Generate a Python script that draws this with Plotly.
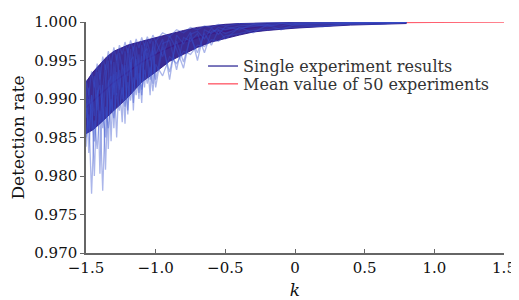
import plotly.graph_objects as go

K = [-1.50, -1.48, -1.46, -1.44, -1.42, -1.40, -1.38, -1.36, -1.34, -1.32,
     -1.30, -1.28, -1.26, -1.24, -1.22, -1.20, -1.18, -1.16, -1.14, -1.12,
     -1.10, -1.08, -1.06, -1.04, -1.02, -1.00, -0.95, -0.90, -0.85, -0.80,
     -0.75, -0.70, -0.65, -0.60, -0.55, -0.50, -0.40, -0.30, -0.20, -0.10,
     0.00, 0.20, 0.40, 0.60, 0.80]

RUN_A = [0.9925, 0.9905, 0.9936, 0.9915, 0.9946, 0.9925, 0.9955, 0.9938, 0.9962, 0.9945,
         0.9967, 0.9950, 0.9970, 0.9958, 0.9974, 0.9960, 0.9976, 0.9963, 0.9978, 0.9966,
         0.9980, 0.9969, 0.9981, 0.9972, 0.9983, 0.9975, 0.9986, 0.9981, 0.9990, 0.9986,
         0.9993, 0.9990, 0.9995, 0.9993, 0.9997, 0.9995, 0.9998, 0.9998, 0.9999, 0.99993,
         0.99996, 0.99998, 0.99999, 1.0000, 1.0000]
RUN_B = [0.9850, 0.9880, 0.9777, 0.9872, 0.9835, 0.9885, 0.9781, 0.9890, 0.9862, 0.9900,
         0.9875, 0.9908, 0.9885, 0.9915, 0.9890, 0.9922, 0.9898, 0.9928, 0.9905, 0.9934,
         0.9912, 0.9938, 0.9920, 0.9942, 0.9910, 0.9945, 0.9930, 0.9955, 0.9946, 0.9962,
         0.9958, 0.9970, 0.9968, 0.9977, 0.9975, 0.9982, 0.9985, 0.9989, 0.9990, 0.9992,
         0.9993, 0.9995, 0.9997, 0.9998, 0.9999]
RUN_C = [0.9895, 0.9860, 0.9905, 0.9800, 0.9912, 0.9870, 0.9918, 0.9808, 0.9925, 0.9885,
         0.9932, 0.9850, 0.9938, 0.9900, 0.9944, 0.9880, 0.9948, 0.9895, 0.9952, 0.9908,
         0.9956, 0.9915, 0.9960, 0.9925, 0.9963, 0.9915, 0.9968, 0.9935, 0.9975, 0.9948,
         0.9980, 0.9960, 0.9985, 0.9970, 0.9989, 0.9978, 0.9993, 0.9986, 0.9996, 0.9990,
         0.9997, 0.9994, 0.9999, 0.9997, 0.99998]
RUN_D = [0.9920, 0.9830, 0.9905, 0.9878, 0.9935, 0.9803, 0.9915, 0.9945, 0.9835, 0.9950,
         0.9905, 0.9958, 0.9920, 0.9870, 0.9962, 0.9930, 0.9965, 0.9885, 0.9968, 0.9940,
         0.9895, 0.9972, 0.9950, 0.9905, 0.9975, 0.9958, 0.9978, 0.9925, 0.9983, 0.9972,
         0.9987, 0.9950, 0.9990, 0.9985, 0.9993, 0.9990, 0.9995, 0.9996, 0.9997, 0.9998,
         0.9998, 0.9999, 0.99993, 0.99996, 0.99999]
RUN_E = [0.9875, 0.9915, 0.9860, 0.9930, 0.9885, 0.9942, 0.9862, 0.9925, 0.9950, 0.9845,
         0.9948, 0.9905, 0.9960, 0.9940, 0.9868, 0.9966, 0.9935, 0.9968, 0.9945, 0.9900,
         0.9970, 0.9950, 0.9974, 0.9960, 0.9920, 0.9976, 0.9955, 0.9982, 0.9965, 0.9940,
         0.9984, 0.9988, 0.9978, 0.9992, 0.9984, 0.9994, 0.9990, 0.9997, 0.9994, 0.9998,
         0.9996, 0.99985, 0.9998, 0.99995, 0.99998]
RUN_F = [0.9838, 0.9900, 0.9885, 0.9845, 0.9905, 0.9918, 0.9885, 0.9850, 0.9920, 0.9930,
         0.9862, 0.9935, 0.9912, 0.9945, 0.9930, 0.9885, 0.9950, 0.9955, 0.9925, 0.9958,
         0.9905, 0.9962, 0.9965, 0.9950, 0.9968, 0.9925, 0.9972, 0.9976, 0.9938, 0.9980,
         0.9975, 0.9985, 0.9960, 0.9988, 0.9990, 0.9985, 0.9992, 0.9994, 0.9996, 0.9995,
         0.9998, 0.9997, 0.99992, 0.99995, 0.99998]
RUNS = [RUN_A, RUN_B, RUN_C, RUN_D, RUN_E, RUN_F]

# dense core of the 50 overlapping runs
K_CORE = [-1.50, -1.45, -1.40, -1.35, -1.30, -1.20, -1.10, -1.00, -0.90, -0.80,
          -0.70, -0.60, -0.50, -0.40, -0.30, -0.20, 0.00, 0.40, 0.80]
CORE_HI = [0.9922, 0.9935, 0.9945, 0.9955, 0.9962, 0.9970, 0.9975, 0.9980, 0.9985, 0.9989,
           0.9993, 0.9995, 0.9997, 0.9998, 0.99985, 0.9999, 0.99995, 0.99998, 1.0000]
CORE_LO = [0.9855, 0.9860, 0.9868, 0.9876, 0.9885, 0.9902, 0.9922, 0.9935, 0.9949, 0.9958,
           0.9967, 0.9974, 0.9979, 0.9983, 0.9987, 0.9989, 0.9992, 0.9996, 0.9998]

K_MEAN = [-1.5, -1.4, -1.3, -1.2, -1.1, -1.0, -0.9, -0.8, -0.7, -0.6, -0.5,
          -0.4, -0.3, -0.2, -0.1, 0.0, 0.25, 0.5, 0.75, 1.0, 1.25, 1.5]
MEAN = [0.9889, 0.9905, 0.9922, 0.9935, 0.9948, 0.9958, 0.9967, 0.9974, 0.9980, 0.9985, 0.9988,
        0.9991, 0.9993, 0.9995, 0.9996, 0.9997, 0.99982, 0.9999, 0.99994, 0.99996, 0.99998, 0.99999]

X_TICKS = [-1.5, -1.0, -0.5, 0.0, 0.5, 1.0, 1.5]
X_LABELS = ["\u22121.5", "\u22121.0", "\u22120.5", "0", "0.5", "1.0", "1.5"]
Y_TICKS = [0.970, 0.975, 0.980, 0.985, 0.990, 0.995, 1.000]
Y_LABELS = ["0.970", "0.975", "0.980", "0.985", "0.990", "0.995", "1.000"]

FONT = "DejaVu Serif"
RUN_COLOR = "rgba(55,80,205,0.42)"
CORE_COLOR = "rgba(38,20,135,0.9)"

fig = go.Figure()
fig.add_trace(go.Scatter(x=K_MEAN, y=MEAN, mode="lines",
                         line=dict(color="#ff6070", width=1.5),
                         showlegend=False, hoverinfo="skip"))
fig.add_trace(go.Scatter(x=K_CORE, y=CORE_LO, mode="lines",
                         line=dict(color=CORE_COLOR, width=1),
                         showlegend=False))
fig.add_trace(go.Scatter(x=K_CORE, y=CORE_HI, mode="lines", fill="tonexty",
                         fillcolor=CORE_COLOR, line=dict(color=CORE_COLOR, width=1),
                         showlegend=False))
for run in RUNS:
    fig.add_trace(go.Scatter(x=K, y=run, mode="lines",
                             line=dict(color=RUN_COLOR, width=1.3),
                             showlegend=False))
# legend entries
fig.add_trace(go.Scatter(x=[None], y=[None], mode="lines",
                         line=dict(color="#4e4aa6", width=1.5),
                         name="Single experiment results", legend="legend"))
fig.add_trace(go.Scatter(x=[None], y=[None], mode="lines",
                         line=dict(color="#ff6b78", width=1.5),
                         name="Mean value of 50 experiments", legend="legend2"))

leg_common = dict(x=0.28, xanchor="left", yanchor="middle",
                  bgcolor="rgba(0,0,0,0)",
                  font=dict(family=FONT, size=16, color="#333"))
# the page body adds an 8 px margin, so the figure is 8 px smaller on each side
fig.update_layout(
    width=511, height=292,
    margin=dict(l=78, r=15, t=13.7, b=47),
    paper_bgcolor="white", plot_bgcolor="white",
    font=dict(family=FONT, size=15, color="#111"),
    legend=dict(y=0.809, **leg_common),
    legend2=dict(y=0.732, **leg_common),
)
fig.update_xaxes(range=[-1.5, 1.5], tickvals=X_TICKS, ticktext=X_LABELS,
                 ticks="inside", ticklen=4, tickcolor="#666",
                 showline=True, linecolor="#666", linewidth=1.5,
                 showgrid=False, zeroline=False, automargin=False,
                 tickfont=dict(family=FONT, size=15, color="#111"),
                 title=dict(text="k", standoff=14,
                            font=dict(family=FONT, size=17, style="italic", color="#111")))
fig.update_yaxes(range=[0.970, 1.000], tickvals=Y_TICKS, ticktext=Y_LABELS,
                 ticks="outside", ticklen=4, tickcolor="#666",
                 showline=True, linecolor="#666", linewidth=1.5,
                 showgrid=False, zeroline=False, automargin=False,
                 tickfont=dict(family=FONT, size=15, color="#111"),
                 title=dict(text="Detection rate", standoff=6,
                            font=dict(family=FONT, size=17, color="#111")))

fig.write_html("out.html")
